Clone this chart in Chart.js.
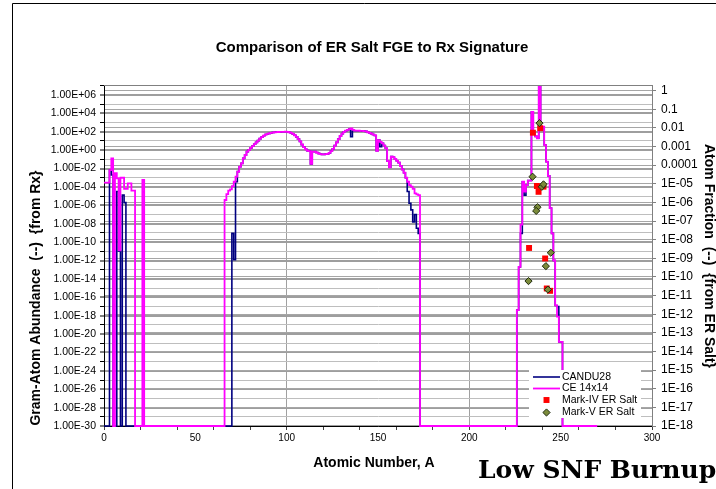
<!DOCTYPE html>
<html>
<head>
<meta charset="utf-8">
<script src="https://cdn.jsdelivr.net/npm/chart.js@4.4.0/dist/chart.umd.min.js"></script>
<style>
  html, body { margin: 0; padding: 0; background: #fff; }
  #wrap { position: relative; width: 716px; height: 489px; }
</style>
</head>
<body>
<div id="wrap"><canvas id="chart" width="716" height="489"></canvas></div>
<script>
// zero abundance is plotted on the axis floor, as in the source sheet
const FLOOR = 1e-30;

// gram-atom abundance from the reactor, index = mass number A (0 = none)
const candu28 = [
  /*   0 */ 0, 0, 0, 6.9e-3, 2e-3, 0, 0, 3.2e-5, 1e-11, 0,
  /*  10 */ 1.3e-5, 2e-6, 0, 0, 0, 0, 0, 0, 0, 0,
  /*  20 */ 0, 0, 0, 0, 0, 0, 0, 0, 0, 0,
  /*  30 */ 0, 0, 0, 0, 0, 0, 0, 0, 0, 0,
  /*  40 */ 0, 0, 0, 0, 0, 0, 0, 0, 0, 0,
  /*  50 */ 0, 0, 0, 0, 0, 0, 0, 0, 0, 0,
  /*  60 */ 0, 0, 0, 0, 0, 0, 0, 0, 0, 0,
  /*  70 */ 9e-10, 1.2e-12, 3.7e-4, 4.6e-3, 0.016, 0.037, 0.13, 0.3, 0.69, 1.1,
  /*  80 */ 1.8, 2.8, 4.5, 7, 11, 18, 26, 37, 50, 58,
  /*  90 */ 66, 76, 83, 89, 93, 95, 98, 100, 100, 102,
  /* 100 */ 100, 89, 76, 60, 42, 28, 16, 8.9, 4, 2.2,
  /* 110 */ 1.26, 0.89, 0.8, 0.032, 0.71, 0.69, 0.56, 0.45, 0.38, 0.35,
  /* 120 */ 0.35, 0.37, 0.4, 0.5, 0.8, 1.4, 3.2, 7.1, 16, 35,
  /* 130 */ 63, 100, 132, 158, 200, 29, 158, 132, 132, 132,
  /* 140 */ 129, 126, 120, 112, 89, 76, 63, 50, 40, 0.87,
  /* 150 */ 12.6, 2.4, 5.6, 3.2, 1.6, 0.063, 0.014, 0.2, 0.17, 0.11,
  /* 160 */ 0.071, 0.044, 0.02, 7.9e-3, 3.5e-3, 1e-3, 3.2e-5, 1.7e-6, 3.2e-7, 1.6e-8,
  /* 170 */ 1e-7, 3.2e-9, 9e-10, 0, 0, 0, 0, 0, 0, 0,
  /* 180 */ 0, 0, 0, 0, 0, 0, 0, 0, 0, 0,
  /* 190 */ 0, 0, 0, 0, 0, 0, 0, 0, 0, 0,
  /* 200 */ 0, 0, 0, 0, 0, 0, 0, 0, 0, 0,
  /* 210 */ 0, 0, 0, 0, 0, 0, 0, 0, 0, 0,
  /* 220 */ 0, 0, 0, 0, 0, 0, 4e-18, 2e-13, 9e-10, 3.7e-4,
  /* 230 */ 1.3e-5, 1.6e-4, 5e-4, 5e-4, 1.5e4, 65, 32, 19.5, 3.2e7, 355,
  /* 240 */ 355, 3.6, 0.056, 1.6e-3, 5e-7, 9e-10, 1e-12, 1.3e-17, 1e-17, 1.4e-21,
  /* 250 */ 1.4e-21, 0, 0
];

const ce14x14 = [
  /*   0 */ 2.9e-4, 2.9e-4, 2.9e-4, 6.9e-3, 0.13, 0, 3.2e-3, 8.7e-4, 1.3e-11, 1e-3,
  /*  10 */ 1e-3, 6.3e-5, 6.3e-5, 2.5e-4, 2.5e-4, 4e-5, 4e-5, 0, 0, 0,
  /*  20 */ 0, 5.8e-4, 0, 0, 0, 0, 0, 0, 0, 0,
  /*  30 */ 0, 0, 0, 0, 0, 0, 0, 0, 0, 0,
  /*  40 */ 0, 0, 0, 0, 0, 0, 0, 0, 0, 0,
  /*  50 */ 0, 0, 0, 0, 0, 0, 0, 0, 0, 0,
  /*  60 */ 0, 0, 0, 0, 0, 0, 3.8e-6, 1.7e-5, 3.9e-5, 5.5e-5,
  /*  70 */ 1.26e-4, 3.7e-4, 1.3e-3, 4.6e-3, 0.016, 0.037, 0.13, 0.3, 0.69, 1.1,
  /*  80 */ 1.8, 2.8, 4.5, 7, 11, 18, 26, 37, 50, 58,
  /*  90 */ 66, 76, 83, 89, 93, 95, 98, 100, 100, 102,
  /* 100 */ 100, 89, 76, 60, 42, 28, 16, 8.9, 4, 2.2,
  /* 110 */ 1.26, 0.89, 0.8, 0.032, 0.71, 0.69, 0.56, 0.45, 0.38, 0.35,
  /* 120 */ 0.35, 0.37, 0.4, 0.5, 0.8, 1.4, 3.2, 7.1, 16, 35,
  /* 130 */ 63, 100, 132, 158, 200, 240, 158, 132, 132, 132,
  /* 140 */ 129, 126, 120, 112, 89, 76, 63, 50, 40, 0.87,
  /* 150 */ 12.6, 7.9, 5.6, 3.2, 1.6, 0.063, 0.014, 0.2, 0.17, 0.11,
  /* 160 */ 0.071, 0.044, 0.02, 7.9e-3, 3.5e-3, 1e-3, 3.7e-4, 1.6e-4, 1.07e-4, 6.3e-5,
  /* 170 */ 2e-5, 1.6e-5, 1.3e-5, 0, 0, 0, 0, 0, 0, 0,
  /* 180 */ 0, 0, 0, 0, 0, 0, 0, 0, 0, 0,
  /* 190 */ 0, 0, 0, 0, 0, 0, 0, 0, 0, 0,
  /* 200 */ 0, 0, 0, 0, 0, 0, 0, 0, 0, 0,
  /* 210 */ 0, 0, 0, 0, 0, 0, 0, 0, 0, 0,
  /* 220 */ 0, 0, 0, 0, 0, 0, 4e-18, 2e-13, 7.9e-9, 3.7e-4,
  /* 230 */ 3.2e-5, 1.6e-4, 5e-4, 5e-4, 1.5e4, 65, 32, 19.5, 3.2e7, 355,
  /* 240 */ 355, 3.6, 0.056, 1.6e-3, 5e-7, 9e-10, 1e-12, 1.3e-17, 8e-19, 1.4e-21,
  /* 250 */ 1.4e-21, 0, 0, 0, 0, 0, 0, 0, 0, 0,
  /* 260 */ 0, 0, 0, 0, 0, 0, 0, 0, 0, 0,
  /* 270 */ 0
];

// atom fraction measured in the ER salt (right axis)
const markIVA    = [234.8, 238.8, 237.0, 237.9, 240.6, 232.7, 241.5, 242.4, 244.2];
const markIVFrac = [5.5e-3, 9.6e-3, 7.6e-6, 3.7e-6, 7e-6, 3.6e-9, 9.8e-10, 2.4e-11, 1.8e-11];
const markVA     = [238.4, 234.6, 239.7, 240.6, 237.3, 236.6, 244.6, 241.9, 232.4, 243.0];
const markVFrac  = [1.8e-2, 2.4e-5, 6.9e-6, 9.3e-6, 5.5e-7, 3.5e-7, 2e-9, 3.8e-10, 6e-11, 2.1e-11];

// axes
const xTickValues  = [0, 10, 20, 30, 40, 50, 60, 70, 80, 90, 100, 110, 120, 130, 140, 150,
                      160, 170, 180, 190, 200, 210, 220, 230, 240, 250, 260, 270, 280, 290, 300];
const xLabelValues = [0, 50, 100, 150, 200, 250, 300];
const xGridValues  = [100, 200];
const leftExponents = [-30, -29, -28, -27, -26, -25, -24, -23, -22, -21, -20, -19, -18, -17, -16,
                       -15, -14, -13, -12, -11, -10, -9, -8, -7, -6, -5, -4, -3, -2, -1, 0, 1, 2, 3, 4, 5, 6, 7];
const leftLabelExponents = [-30, -28, -26, -24, -22, -20, -18, -16, -14, -12, -10, -8, -6, -4, -2, 0, 2, 4, 6];
const rightExponents = [-18, -17, -16, -15, -14, -13, -12, -11, -10, -9, -8, -7, -6, -5, -4, -3, -2, -1, 0];
const rightSmallLabels = ['1', '0.1', '0.01', '0.001', '0.0001'];

const expOf = v => Math.round(Math.log10(v));
const pad2 = n => String(Math.abs(n)).padStart(2, '0');
const leftLabel = e => '1.00E' + (e < 0 ? '-' : '+') + pad2(e);
const rightLabel = e => e >= -4 ? rightSmallLabels[-e] : '1E-' + pad2(e);
const toPoints = vals => vals.map((v, a) => ({ x: a, y: v > 0 ? v : FLOOR }));
const zip = (xs, ys) => xs.map((x, i) => ({ x: x, y: ys[i] }));
const isEven = c => c.tick && expOf(c.tick.value) % 2 === 0;

const SANS = '"Liberation Sans", Arial, sans-serif';

const datasets = [
  { label: 'Mark-V ER Salt', data: zip(markVA, markVFrac), yAxisID: 'y2', order: 0,
    pointStyle: 'rectRot', pointRadius: 3.6, backgroundColor: '#7b8b3a', borderColor: '#1e2a0c', borderWidth: 1 },
  { label: 'Mark-IV ER Salt', data: zip(markIVA, markIVFrac), yAxisID: 'y2', order: 1,
    pointStyle: 'rect', pointRadius: 4.2, backgroundColor: '#ff0000', borderColor: '#ff0000', borderWidth: 0 },
  { label: 'CE 14x14', data: toPoints(ce14x14), yAxisID: 'y', order: 2, showLine: true, stepped: 'before',
    borderColor: '#ff00ff', borderWidth: 1.8, pointRadius: 0, clip: { left: 3, right: 3, top: 0, bottom: 3 } },
  { label: 'CANDU28', data: toPoints(candu28), yAxisID: 'y', order: 3, showLine: true, stepped: 'before',
    borderColor: '#000080', borderWidth: 1.6, pointRadius: 0, clip: { left: 3, right: 3, top: 0, bottom: 3 } }
];

// legend entries in the order of the source legend
const legendOrder = ['CANDU28', 'CE 14x14', 'Mark-IV ER Salt', 'Mark-V ER Salt'];

const decorations = {
  id: 'decorations',
  afterDraw(chart) {
    const { ctx, chartArea: a } = chart;
    ctx.save();
    // plot area top edge
    ctx.strokeStyle = '#808080';
    ctx.lineWidth = 1;
    ctx.beginPath();
    ctx.moveTo(a.left, a.top + 0.5);
    ctx.lineTo(a.right, a.top + 0.5);
    ctx.stroke();
    // chart object border
    ctx.strokeStyle = '#000';
    ctx.beginPath();
    ctx.moveTo(12.5, 489);
    ctx.lineTo(12.5, 3.5);
    ctx.lineTo(716, 3.5);
    ctx.stroke();

    // titles
    ctx.fillStyle = '#000';
    ctx.textAlign = 'center';
    ctx.textBaseline = 'middle';
    ctx.font = 'bold 15px ' + SANS;
    ctx.fillText('Comparison of ER Salt FGE to Rx Signature', 372, 48);
    ctx.font = 'bold 14px ' + SANS;
    ctx.fillText('Atomic Number, A', 374, 463);
    ctx.save();
    ctx.translate(36, 298);
    ctx.rotate(-Math.PI / 2);
    ctx.fillText('Gram-Atom Abundance  (--)  {from Rx}', 0, 0);
    ctx.restore();
    ctx.save();
    ctx.translate(709, 256);
    ctx.rotate(Math.PI / 2);
    ctx.fillText('Atom Fraction  (--)  {from ER Salt}', 0, 0);
    ctx.restore();

    // legend inside the plot, bottom right
    ctx.fillStyle = '#fff';
    ctx.fillRect(529, 370, 112, 48);
    const rows = [377, 388.5, 400, 412.5];
    ctx.font = '10.5px ' + SANS;
    ctx.textAlign = 'left';
    legendOrder.forEach((name, i) => {
      const ds = chart.data.datasets.find(d => d.label === name);
      const y = rows[i];
      if (ds.showLine) {
        ctx.strokeStyle = ds.borderColor;
        ctx.lineWidth = ds.borderWidth;
        ctx.beginPath();
        ctx.moveTo(533, y);
        ctx.lineTo(560, y);
        ctx.stroke();
      } else {
        ctx.fillStyle = ds.backgroundColor;
        ctx.strokeStyle = ds.borderColor;
        ctx.lineWidth = ds.borderWidth;
        Chart.helpers.drawPoint(ctx, { pointStyle: ds.pointStyle, radius: ds.pointRadius, rotation: 0, borderWidth: ds.borderWidth }, 546.5, y);
      }
      ctx.fillStyle = '#000';
      ctx.fillText(name, 562, y);
    });

    // note under the plot
    ctx.font = 'bold 25px "DejaVu Serif", serif';
    ctx.textAlign = 'left';
    ctx.textBaseline = 'alphabetic';
    ctx.fillText('Low SNF Burnup', 478, 478);
    ctx.restore();
  }
};

new Chart(document.getElementById('chart'), {
  type: 'scatter',
  data: { datasets: datasets },
  options: {
    responsive: false,
    animation: false,
    devicePixelRatio: 1,
    events: [],
    layout: { padding: { top: 85, left: 0, right: 0, bottom: 0 } },
    plugins: { legend: { display: false }, tooltip: { enabled: false }, title: { display: false } },
    scales: {
      x: {
        type: 'linear', position: 'bottom', min: 0, max: 300,
        afterBuildTicks: s => { s.ticks = xTickValues.map(v => ({ value: v })); },
        afterFit: s => { s.height = 63; },
        grid: {
          color: c => (c.tick && xGridValues.includes(c.tick.value)) ? '#a0a0a0' : 'rgba(0,0,0,0)',
          tickColor: c => (c.tick && c.tick.value % 20 === 0) ? '#404040' : 'rgba(0,0,0,0)',
          tickLength: 4
        },
        border: { color: '#000', width: 1 },
        ticks: {
          autoSkip: false, maxRotation: 0, padding: 2, color: '#000',
          font: { family: SANS, size: 10 },
          callback: v => xLabelValues.includes(v) ? String(v) : ''
        }
      },
      y: {
        type: 'logarithmic', position: 'left', min: 1e-30, max: 1.23e7, bounds: 'data',
        afterBuildTicks: s => { s.ticks = leftExponents.map(e => ({ value: Number('1e' + e) })); },
        afterFit: s => { s.width = 104; },
        grid: {
          color: c => isEven(c) ? '#9e9e9e' : '#bebebe',
          lineWidth: c => isEven(c) ? 2 : 1,
          tickColor: '#000',
          tickWidth: 1,
          tickLength: 4
        },
        border: { color: '#000', width: 1 },
        ticks: {
          autoSkip: false, padding: 4, color: '#000',
          font: { family: SANS, size: 10.5 },
          callback: v => { const e = expOf(v); return leftLabelExponents.includes(e) ? leftLabel(e) : ''; }
        }
      },
      y2: {
        type: 'logarithmic', position: 'right', min: 1e-18, max: 2, bounds: 'data',
        afterBuildTicks: s => { s.ticks = rightExponents.map(e => ({ value: Number('1e' + e) })); },
        afterFit: s => { s.width = 64; },
        grid: { color: '#a6a6a6', tickColor: '#808080', tickLength: 4 },
        border: { color: '#808080', width: 1 },
        ticks: {
          autoSkip: false, padding: 5, color: '#000',
          font: { family: SANS, size: 12 },
          callback: v => rightLabel(expOf(v))
        }
      }
    }
  },
  plugins: [decorations]
});
</script>
</body>
</html>
